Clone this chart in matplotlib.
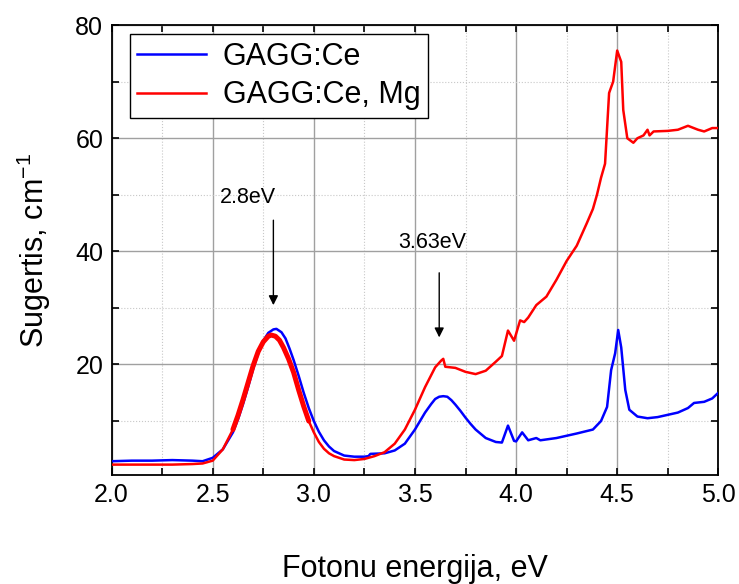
import numpy as np
import matplotlib.pyplot as plt
from matplotlib.ticker import MultipleLocator

plt.rcParams['font.family'] = ['Liberation Sans', 'DejaVu Sans']

# GAGG:Ce
x_ce = [2.0, 2.1, 2.2, 2.3, 2.4, 2.45, 2.5, 2.55, 2.6, 2.625, 2.65, 2.675, 2.7, 2.725,
        2.75, 2.775, 2.8, 2.815, 2.84, 2.86, 2.88, 2.9, 2.925, 2.95, 2.975, 3.0, 3.025,
        3.05, 3.075, 3.1, 3.15, 3.2, 3.25, 3.27, 3.28, 3.35, 3.4, 3.45, 3.5,
        3.55, 3.58, 3.6, 3.62, 3.64, 3.66, 3.68, 3.7, 3.725, 3.75, 3.775, 3.8, 3.85, 3.9,
        3.93, 3.96, 3.99, 4.0, 4.03, 4.06, 4.1, 4.12, 4.2, 4.3, 4.38, 4.42, 4.45, 4.47,
        4.49, 4.505, 4.52, 4.54, 4.56, 4.6, 4.65, 4.7, 4.8, 4.85, 4.88, 4.93, 4.97, 5.0]
y_ce = [2.9, 3.0, 3.0, 3.1, 3.0, 2.9, 3.5, 5.0, 8.0, 10.3, 13.0, 16.0, 19.2, 22.0,
        24.2, 25.6, 26.2, 26.3, 25.7, 24.6, 22.8, 20.8, 18.0, 15.0, 12.3, 10.0, 8.1,
        6.6, 5.5, 4.7, 3.9, 3.7, 3.7, 3.8, 4.2, 4.3, 4.8, 6.0, 8.5,
        11.5, 13.0, 13.9, 14.3, 14.4, 14.3, 13.7, 12.9, 11.8, 10.6, 9.5, 8.5, 7.0, 6.3,
        6.2, 9.2, 6.5, 6.4, 8.0, 6.6, 7.0, 6.6, 7.0, 7.8, 8.5, 10.0, 12.5, 19.0,
        22.0, 26.1, 23.0, 15.5, 12.0, 10.8, 10.5, 10.7, 11.5, 12.3, 13.2, 13.4, 14.0, 15.0]

# GAGG:Ce, Mg
x_mg = [2.0, 2.1, 2.2, 2.3, 2.4, 2.45, 2.5, 2.55, 2.6, 2.625, 2.65, 2.675, 2.7, 2.725,
        2.75, 2.775, 2.79, 2.81, 2.83, 2.85, 2.875, 2.9, 2.925, 2.95, 2.975, 3.0, 3.025,
        3.05, 3.075, 3.1, 3.15, 3.2, 3.25, 3.3, 3.35, 3.4, 3.45, 3.5, 3.55, 3.6,
        3.63, 3.64, 3.65, 3.7, 3.75, 3.8, 3.85, 3.9, 3.93, 3.96, 3.99, 4.02, 4.04, 4.06,
        4.1, 4.15, 4.2, 4.25, 4.3, 4.35, 4.38, 4.4, 4.42, 4.44, 4.46, 4.48, 4.5, 4.52,
        4.53, 4.55, 4.58, 4.6, 4.63, 4.65, 4.66, 4.68, 4.75, 4.8, 4.85, 4.9, 4.93, 4.97, 5.0]
y_mg = [2.3, 2.3, 2.3, 2.3, 2.4, 2.5, 3.0, 5.0, 8.5, 11.0, 13.8, 16.8, 19.8, 22.3,
        24.0, 25.0, 25.2, 25.0, 24.3, 23.0, 21.0, 18.6, 15.5, 12.6, 10.0, 8.0, 6.3,
        5.1, 4.3, 3.8, 3.2, 3.1, 3.3, 3.8, 4.5, 6.0, 8.5, 12.0, 16.0, 19.5,
        20.7, 21.0, 19.6, 19.4, 18.7, 18.3, 18.9, 20.5, 21.5, 26.0, 24.2, 27.8, 27.5, 28.3,
        30.5, 32.0, 35.0, 38.3, 41.0, 45.0, 47.5, 50.0, 53.0, 55.5, 68.0, 70.0, 75.5, 73.5,
        65.0, 60.0, 59.2, 60.0, 60.5, 61.5, 60.5, 61.2, 61.3, 61.5, 62.2, 61.5, 61.2, 61.8, 61.8]

fig = plt.figure(figsize=(7.39, 5.84), dpi=100)
ax = fig.add_axes([0.151, 0.187, 0.821, 0.770])

ax.plot(x_ce, y_ce, color='#0000ff', lw=1.8, label='GAGG:Ce', zorder=3)
ax.plot(x_mg, y_mg, color='#ff0000', lw=1.8, label='GAGG:Ce, Mg', zorder=4)
# noisy (thick) part of the red peak
x_mg = np.array(x_mg)
y_mg = np.array(y_mg)
m = (x_mg >= 2.6) & (x_mg <= 2.975)
ax.plot(x_mg[m], y_mg[m], color='#ff0000', lw=3.6, zorder=4,
        solid_capstyle='round', solid_joinstyle='round')

ax.set_xlim(2.0, 5.0)
ax.set_ylim(0.5, 80)
ax.xaxis.set_major_locator(MultipleLocator(0.5))
ax.xaxis.set_minor_locator(MultipleLocator(0.25))
ax.yaxis.set_major_locator(MultipleLocator(20))
ax.yaxis.set_minor_locator(MultipleLocator(10))
ax.set_yticks([20, 40, 60, 80])

ax.grid(True, which='major', color='#a0a0a0', lw=1.0, ls='-')
ax.grid(True, which='minor', color='#c8c8c8', lw=0.8, ls=':')
ax.set_axisbelow(True)

ax.tick_params(which='both', direction='in', top=True, right=True, length=5, width=1.2)
ax.tick_params(labelsize=18, pad=6)
for s in ax.spines.values():
    s.set_linewidth(1.3)

ax.set_xlabel('Fotonu energija, eV', fontsize=22, labelpad=34)
ax.set_ylabel('Sugertis, cm$^{\\mathregular{-1}}$', fontsize=22, labelpad=16)

ax.annotate('', xy=(2.8, 30), xytext=(2.8, 46),
            arrowprops=dict(arrowstyle='-|>', color='black', lw=1, mutation_scale=14))
ax.text(2.675, 49.6, '2.8eV', fontsize=15.5, ha='center', va='center')
ax.annotate('', xy=(3.62, 24.3), xytext=(3.62, 36.7),
            arrowprops=dict(arrowstyle='-|>', color='black', lw=1, mutation_scale=14))
ax.text(3.585, 41.6, '3.63eV', fontsize=15.5, ha='center', va='center')

leg = ax.legend(loc='upper left', bbox_to_anchor=(0.03, 0.98), fontsize=22, fancybox=False,
                edgecolor='black', framealpha=1, handlelength=2.25, handletextpad=0.55,
                borderpad=0.25, labelspacing=0.28, borderaxespad=0)
leg.get_frame().set_linewidth(1.0)

fig.savefig('out.png', dpi=100)
